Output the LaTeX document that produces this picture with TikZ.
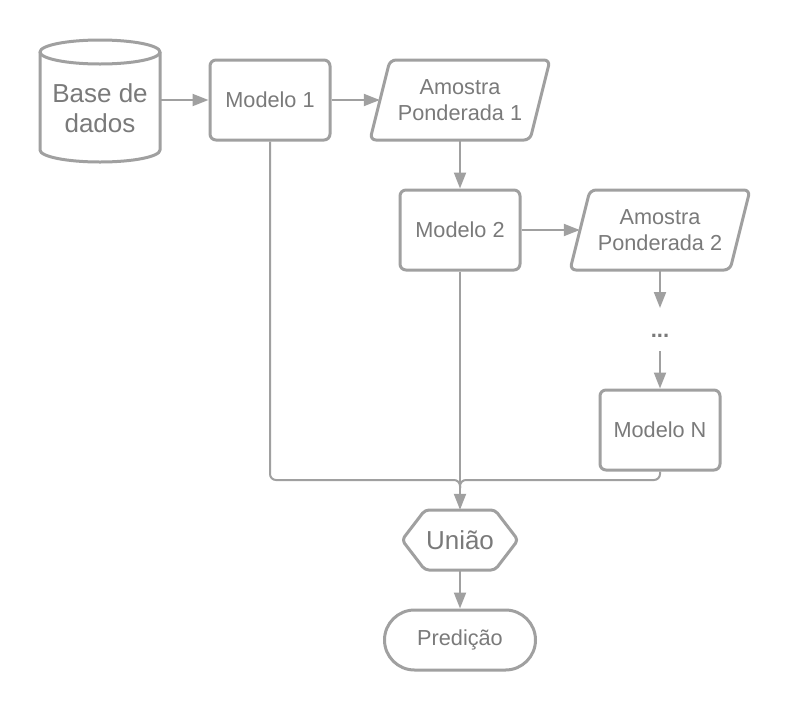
\documentclass[tikz,border=0pt]{standalone}
\usepackage{fontspec}
\setmainfont{Liberation Sans}
\usetikzlibrary{arrows.meta,calc}
\definecolor{linegray}{RGB}{160,160,160}
\definecolor{textgray}{RGB}{122,122,122}
\begin{document}
\begin{tikzpicture}[x=1pt,y=-1pt,
  shapeline/.style={draw=linegray, line width=3pt, line join=round},
  txt/.style={text=textgray, align=center, inner sep=0pt, font=\fontsize{21.7}{26}\selectfont},
  bigtxt/.style={text=textgray, align=center, inner sep=0pt, font=\fontsize{26}{30}\selectfont},
  box/.style={shapeline, txt, rounded corners=6pt, minimum width=120pt, minimum height=80pt},
  ghost/.style={minimum width=#1, minimum height=80pt},
  conn/.style={draw=linegray, line width=2pt},
  arr/.style={conn, -{Triangle[length=16pt,width=12pt]}},
]
\fill[white] (0,0) rectangle (790,710);
\useasboundingbox (0,0) rectangle (790,710);

% database cylinder
\node[bigtxt, minimum width=120pt, minimum height=108pt] (db) at (100,108) {Base de\\dados};
\draw[shapeline] (40,52) -- (40,150) arc[start angle=180, end angle=360, x radius=60pt, y radius=12pt] -- (160,52);
\draw[shapeline] (100,52) ellipse[x radius=60pt, y radius=12pt];

% models
\node[box] (m1) at (270,100) {Modelo 1};
\node[box] (m2) at (460,230) {Modelo 2};
\node[box] (mN) at (660,430) {Modelo N};

% weighted samples (parallelograms)
\node[txt, ghost=160pt] (ap1) at (460,100) {Amostra\\Ponderada 1};
\draw[shapeline, rounded corners=6pt] ($(ap1.center)+(-70,-40)$) -- ($(ap1.center)+(90,-40)$) -- ($(ap1.center)+(70,40)$) -- ($(ap1.center)+(-90,40)$) -- cycle;
\node[txt, ghost=160pt] (ap2) at (660,230) {Amostra\\Ponderada 2};
\draw[shapeline, rounded corners=6pt] ($(ap2.center)+(-70,-40)$) -- ($(ap2.center)+(90,-40)$) -- ($(ap2.center)+(70,40)$) -- ($(ap2.center)+(-90,40)$) -- cycle;

% dots
\node[txt, font=\fontsize{22}{26}\selectfont\bfseries] (dots) at (660,336) {...};

% union hexagon
\node[bigtxt, minimum width=116pt, minimum height=60pt] (u) at (460,540) {União};
\draw[shapeline, rounded corners=4pt] ($(u.center)+(-58,0)$) -- ($(u.center)+(-35,-30)$) -- ($(u.center)+(35,-30)$) -- ($(u.center)+(58,0)$) -- ($(u.center)+(35,30)$) -- ($(u.center)+(-35,30)$) -- cycle;

% prediction terminal
\node[shapeline, txt, rounded corners=30pt, minimum width=151pt, minimum height=60pt] (p) at (460,640) {Predição};

% connectors
\draw[arr] (db.east |- m1.west) -- (m1.west);
\draw[arr] (m1) -- (ap1);
\draw[arr] (ap1.south) -- (m2.north);
\draw[arr] (m2) -- (ap2);
\draw[arr] (ap2.south) -- ([yshift=28pt]dots.center);
\draw[arr] ([yshift=-15pt]dots.center) -- (mN.north);

\coordinate (j) at (460,480);
\draw[conn, rounded corners=6pt] (m1.south) -- (m1.south |- j) -- (j) -- ($(j)+(0,8)$);
\draw[conn, rounded corners=6pt] (mN.south) -- (mN.south |- j) -- (j) -- ($(j)+(0,8)$);
\draw[arr] (m2.south) -- (u.north);
\draw[arr] (u.south) -- (p.north);
\end{tikzpicture}
\end{document}
